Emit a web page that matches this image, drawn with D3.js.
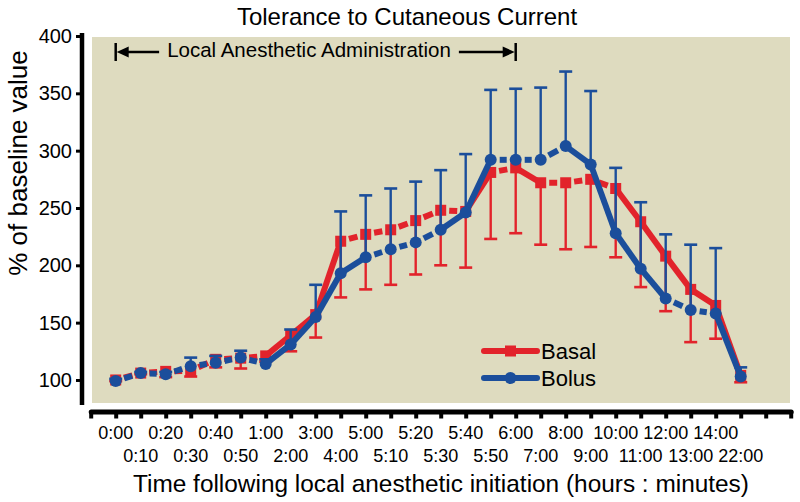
<!DOCTYPE html>
<html>
<head>
<meta charset="utf-8">
<script src="https://cdn.jsdelivr.net/npm/d3@7/dist/d3.min.js"></script>
<style>
  html, body { margin: 0; padding: 0; background: #ffffff; }
  svg { display: block; }
  text { font-family: "Liberation Sans", Arial, Helvetica, sans-serif; fill: #000; }
</style>
</head>
<body>
<svg id="chart" width="800" height="502"></svg>
<script>
// ---------------- data ----------------
const timeLabels = ["0:00","0:10","0:20","0:30","0:40","0:50","1:00","2:00","3:00","4:00",
  "5:00","5:10","5:20","5:30","5:40","5:50","6:00","7:00","8:00","9:00",
  "10:00","11:00","12:00","13:00","14:00","22:00"];
const basal    = [100,106,107.5,108,118,119,121,139,157,221,227,231,239,248,247,281,285,272,272,275,267,238,208,179,165,104];
const basalErr = [1,1,5,5,7,9,5,14,20,49,48,48,47,48,49,58,57,54,58,59,60,57,48,46,29,6];
const bolus    = [99,106,105,112,115,119.5,114,131,155,193,207,214,220,231,246,292,292,292,304,288,228,197,171,161,158,103];
const bolusErr = [2,1,2,7.5,6,6,4,13,28,54,54,53,53,52,51,61,62,63,65,64,57,58,56,57,57,8];
const yTicks = [100,150,200,250,300,350,400];
const seriesNames = ["Basal","Bolus"];
const chartTitle = "Tolerance to Cutaneous Current";
const xTitle = "Time following local anesthetic initiation (hours : minutes)";
const yTitle = "% of baseline value";
const annotationText = "Local Anesthetic Administration";
const annotationRange = [0, 16]; // index of 0:00 to 6:00

// ---------------- layout ----------------
const RED = "#e2232b", BLUE = "#1b4e9b", BG = "#dedbbf";
const svg = d3.select("#chart");
const x = d3.scaleLinear().domain([-1, 27]).range([90.7, 790.7]);
const y = d3.scaleLinear().domain([80, 400]).range([402.9, 36]);

// plot background
svg.append("rect")
  .attr("x", 92).attr("y", 37)
  .attr("width", 790 - 92).attr("height", 403 - 37)
  .attr("fill", BG);

// title
svg.append("text").attr("x", 407).attr("y", 25)
  .attr("text-anchor", "middle").attr("font-size", 24).text(chartTitle);

// y axis
const yAxis = svg.append("g").attr("transform", "translate(82,0)")
  .call(d3.axisLeft(y).tickValues(yTicks).tickSize(6).tickSizeOuter(0).tickPadding(4));
yAxis.select(".domain").attr("stroke", "#000").attr("stroke-width", 4.5)
  .attr("d", `M0,${y(400) - 3}V${y(80) + 2}`);
yAxis.selectAll(".tick line").attr("stroke", "#000").attr("stroke-width", 3);
yAxis.selectAll(".tick text").attr("font-size", 20).attr("fill", "#000")
  .style("font-family", '"Liberation Sans", Arial, sans-serif');

// x axis
const xAxis = svg.append("g").attr("transform", "translate(0,411.5)")
  .call(d3.axisBottom(x).tickValues(d3.range(-1, 28)).tickSize(7).tickSizeOuter(0).tickFormat(""));
xAxis.select(".domain").attr("stroke", "#000").attr("stroke-width", 5).attr("stroke-linecap", "round");
xAxis.selectAll(".tick line").attr("stroke", "#000").attr("stroke-width", 4);

// x tick labels in two staggered rows
svg.append("g").selectAll("text").data(timeLabels).enter().append("text")
  .attr("x", (d, i) => x(i))
  .attr("y", (d, i) => i % 2 === 0 ? 438.5 : 461.5)
  .attr("text-anchor", "middle").attr("font-size", 18)
  .text(d => d);

// axis titles
svg.append("text").attr("x", 441).attr("y", 492)
  .attr("text-anchor", "middle").attr("font-size", 24.4).text(xTitle);
svg.append("text").attr("transform", "translate(27,163) rotate(-90)")
  .attr("text-anchor", "middle").attr("font-size", 26).text(yTitle);

// annotation
const annY = 52;
const annText = svg.append("text").attr("x", 309)
  .attr("y", 57).attr("text-anchor", "middle").attr("font-size", 20.5).text(annotationText);
const bb = annText.node().getBBox();
const ann = svg.append("g");
const xl = x(annotationRange[0]), xr = x(annotationRange[1]);
ann.append("line").attr("x1", xl).attr("x2", xl).attr("y1", annY - 9).attr("y2", annY + 9)
  .attr("stroke", "#000").attr("stroke-width", 2.5);
ann.append("line").attr("x1", xr).attr("x2", xr).attr("y1", annY - 9).attr("y2", annY + 9)
  .attr("stroke", "#000").attr("stroke-width", 2.5);
ann.append("line").attr("x1", xl + 8).attr("x2", bb.x - 8).attr("y1", annY).attr("y2", annY)
  .attr("stroke", "#000").attr("stroke-width", 2.5);
ann.append("line").attr("x1", bb.x + bb.width + 8).attr("x2", xr - 8).attr("y1", annY).attr("y2", annY)
  .attr("stroke", "#000").attr("stroke-width", 2.5);
ann.append("path").attr("d", `M${xl + 1},${annY}L${xl + 13},${annY - 5.5}L${xl + 13},${annY + 5.5}Z`).attr("fill", "#000");
ann.append("path").attr("d", `M${xr - 1},${annY}L${xr - 13},${annY - 5.5}L${xr - 13},${annY + 5.5}Z`).attr("fill", "#000");

// ---------------- series ----------------
function drawSeries(vals, errs, dir, color, shape) {
  const g = svg.append("g");
  const pts = vals.map((v, i) => ({ px: x(i), py: y(v), v, e: errs[i] }));
  // error bars (one-sided)
  const eb = g.append("g");
  pts.forEach(p => {
    const ye = y(p.v + dir * p.e);
    eb.append("line").attr("x1", p.px).attr("x2", p.px).attr("y1", p.py).attr("y2", ye)
      .attr("stroke", color).attr("stroke-width", 2.4);
    eb.append("line").attr("x1", p.px - 6.5).attr("x2", p.px + 6.5).attr("y1", ye).attr("y2", ye)
      .attr("stroke", color).attr("stroke-width", 2.6);
  });
  // connecting segments: short/flat segments leave a small gap at the symbols
  const r = shape === "square" ? 5.5 : 6;
  d3.pairs(pts).forEach(([a, b]) => {
    const dx = b.px - a.px, dy = b.py - a.py, L = Math.hypot(dx, dy);
    const ux = dx / L, uy = dy / L;
    const gap = Math.abs(dy) < 14.5 ? r + 3 : 0;
    g.append("line")
      .attr("x1", a.px + ux * gap).attr("y1", a.py + uy * gap)
      .attr("x2", b.px - ux * gap).attr("y2", b.py - uy * gap)
      .attr("stroke", color).attr("stroke-width", 6);
  });
  // symbols
  if (shape === "square") {
    g.selectAll("rect.sym").data(pts).enter().append("rect").attr("class", "sym")
      .attr("x", p => p.px - 5.5).attr("y", p => p.py - 5.5)
      .attr("width", 11).attr("height", 11).attr("fill", color);
  } else {
    g.selectAll("circle.sym").data(pts).enter().append("circle").attr("class", "sym")
      .attr("cx", p => p.px).attr("cy", p => p.py).attr("r", 6).attr("fill", color);
  }
}
drawSeries(basal, basalErr, -1, RED, "square");
drawSeries(bolus, bolusErr, +1, BLUE, "circle");

// ---------------- legend ----------------
const leg = svg.append("g");
[[seriesNames[0], RED, "square", 351], [seriesNames[1], BLUE, "circle", 378]].forEach(([name, c, s, ly]) => {
  leg.append("line").attr("x1", 484).attr("x2", 537).attr("y1", ly).attr("y2", ly)
    .attr("stroke", c).attr("stroke-width", 6).attr("stroke-linecap", "round");
  if (s === "square") leg.append("rect").attr("x", 505).attr("y", ly - 5.5).attr("width", 11).attr("height", 11).attr("fill", c);
  else leg.append("circle").attr("cx", 510.5).attr("cy", ly).attr("r", 6).attr("fill", c);
  leg.append("text").attr("x", 541).attr("y", ly + 7.5).attr("font-size", 22).text(name);
});
</script>
</body>
</html>
